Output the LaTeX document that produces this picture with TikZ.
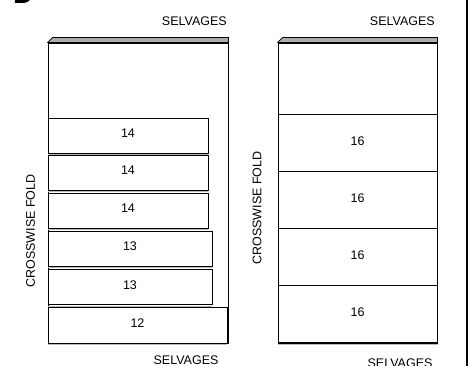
\documentclass[tikz,border=0pt]{standalone}
\usepackage{fontspec}
\setmainfont{Liberation Sans}
\usetikzlibrary{positioning}
\tikzset{
panel/.style = { rectangle, draw = black, fill = white, line width = 0.9pt, inner sep = 0pt },
piece/.style = { rectangle, draw = black, fill = white, line width = 0.8pt, inner sep = 0pt, text depth = 4pt, font = \fontsize{12.5}{14}\selectfont },
selvage/.style = { draw = black, fill = gray!65, line width = 0.6pt },
rim/.style = { draw = gray!55, line width = 1.2pt },
tag/.style = { font = \fontsize{12.5}{14}\selectfont, inner sep = 0pt },
}

\begin{document}
\begin{tikzpicture}[x=1pt, y=-1pt]
      \useasboundingbox (0,0) rectangle (469,366);
      \node[font = \fontsize{28}{30}\selectfont\bfseries, anchor = base west, inner sep = 0pt] (letter) at (13,4) {D};
      \begin{scope}
        \node[panel, minimum width = 180, minimum height = 300] (left) at (138,193) {};
        \node[panel, minimum width = 159, minimum height = 300] (right) at (357.5,193) {};
        \draw[selvage] (left.north west) -- ++(5,-5) -| (left.north east) -- cycle;
        \draw[selvage] (right.north west) -- ++(5,-5) -| (right.north east) -- cycle;
      \end{scope}
      \begin{scope}
        \node[piece, minimum width = 160, minimum height = 35] (a1) at (128,135.5) {14};
        \node[piece, minimum width = 160, minimum height = 35] (a2) at (128,172.5) {14};
        \node[piece, minimum width = 160, minimum height = 35] (a3) at (128,210.5) {14};
        \node[piece, minimum width = 164, minimum height = 35] (a4) at (130,248.5) {13};
        \node[piece, minimum width = 164, minimum height = 35] (a5) at (130,287) {13};
        \node[piece, minimum width = 179, minimum height = 36] (a6) at (137.5,325) {12};
        \foreach \p in {a1, a2, a3, a4, a5, a6}
          \draw[rim] ([yshift=-1.3pt]\p.south west) -- ([yshift=-1.3pt]\p.south east);
      \end{scope}
      \begin{scope}[every node/.append style={text depth = 8pt}]
        \node[piece, minimum width = 159, minimum height = 57, line width = 1pt] (b1) at (357.5,143.5) {16};
        \node[piece, minimum width = 159, minimum height = 57, line width = 1pt] (b2) at (357.5,200.5) {16};
        \node[piece, minimum width = 159, minimum height = 57, line width = 1pt] (b3) at (357.5,257.5) {16};
        \node[piece, minimum width = 159, minimum height = 57, line width = 1pt] (b4) at (357.5,314.5) {16};
        \draw[rim] ([yshift=-1.3pt]b4.south west) -- ([yshift=-1.3pt]b4.south east);
      \end{scope}
      \node[tag, anchor = east] (ltop) at (227,21) {SELVAGES};
      \node[tag, anchor = east] (rtop) at (435,21) {SELVAGES};
      \node[tag] (lbottom) at (186,360.5) {SELVAGES};
      \node[tag] (rbottom) at (400,363) {SELVAGES};
      \node[tag, rotate = 90] (lfold) at (30.5,231) {CROSSWISE FOLD};
      \node[tag, rotate = 90] (rfold) at (257,208) {CROSSWISE FOLD};
      \coordinate (edge top) at (467,0);
      \coordinate (edge bottom) at (467,366);
      \draw[line width = 1.5pt] (edge top) -- (edge bottom);
\end{tikzpicture}
\end{document}
